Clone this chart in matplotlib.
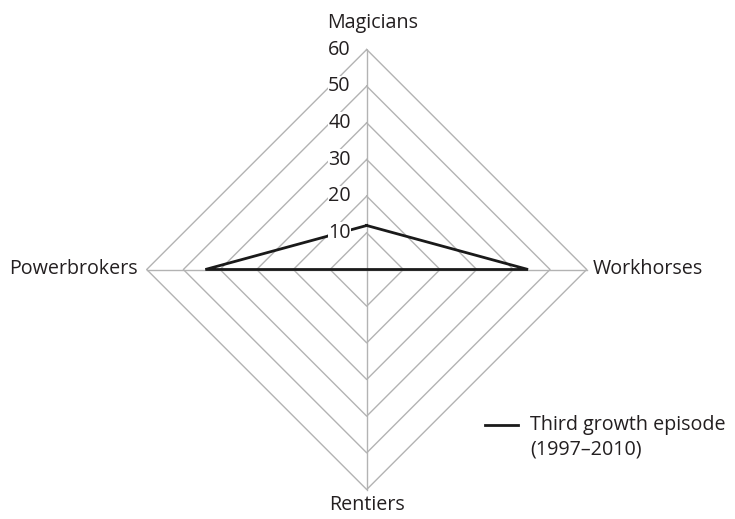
import numpy as np
import matplotlib
matplotlib.use("Agg")
import matplotlib.pyplot as plt

plt.rcParams['font.family'] = ['Open Sans', 'DejaVu Sans']

categories = ["Magicians", "Workhorses", "Rentiers", "Powerbrokers"]
values = [12, 44, 0, 44]
series_label = "Third growth episode\n(1997\u20132010)"
ticks = [10, 20, 30, 40, 50, 60]
rmax = 60

W, H = 735, 519
cx, cy, R = 366.7, 269.5, 220.0
scale = rmax / R  # data units per pixel

fig = plt.figure(figsize=(W / 100, H / 100), dpi=100)
ax = fig.add_axes([0, 0, 1, 1])
ax.set_xlim(-cx * scale, (W - cx) * scale)
ax.set_ylim(-(H - cy) * scale, cy * scale)
ax.axis('off')

# angles: top, right, bottom, left
angles = np.array([90, 0, -90, 180]) * np.pi / 180
ux, uy = np.cos(angles), np.sin(angles)

grid_c = '#b3b3b3'
text_c = '#231f20'
for t in ticks:
    xs = np.append(ux * t, ux[0] * t)
    ys = np.append(uy * t, uy[0] * t)
    ax.plot(xs, ys, color=grid_c, lw=1.0, zorder=1)
for a in range(4):
    ax.plot([0, ux[a] * rmax], [0, uy[a] * rmax], color=grid_c, lw=1.0, zorder=1)

v = np.array(values, dtype=float)
xs = np.append(ux * v, ux[0] * v[0])
ys = np.append(uy * v, uy[0] * v[0])
ax.plot(xs, ys, color='#1a1a1a', lw=2.0, zorder=3, solid_joinstyle='miter')

fs = 14.2
for t in ticks:
    ax.text(-16 * scale, t, str(t), ha='right', va='center', fontsize=fs, color=text_c,
            zorder=5, bbox=dict(facecolor='white', edgecolor='none', pad=0.3))

ax.text(6 * scale, rmax + 27 * scale, categories[0], ha='center', va='center', fontsize=fs, color=text_c)
ax.text(rmax + 6 * scale, 0, categories[1], ha='left', va='center', fontsize=fs, color=text_c)
ax.text(0, -rmax - 16 * scale, categories[2], ha='center', va='center', fontsize=fs, color=text_c)
ax.text(-rmax - 9 * scale, 0, categories[3], ha='right', va='center', fontsize=fs, color=text_c)

# legend
lx0, lx1, ly = (485 - cx) * scale, (518 - cx) * scale, (cy - 425) * scale
ax.plot([lx0, lx1], [ly, ly], color='#1a1a1a', lw=2.0)
for i, part in enumerate(series_label.split("\n")):
    ax.text((530 - cx) * scale, ly - i * 25 * scale, part, ha='left', va='center',
            fontsize=fs, color=text_c)

fig.savefig("out.png", dpi=100)
